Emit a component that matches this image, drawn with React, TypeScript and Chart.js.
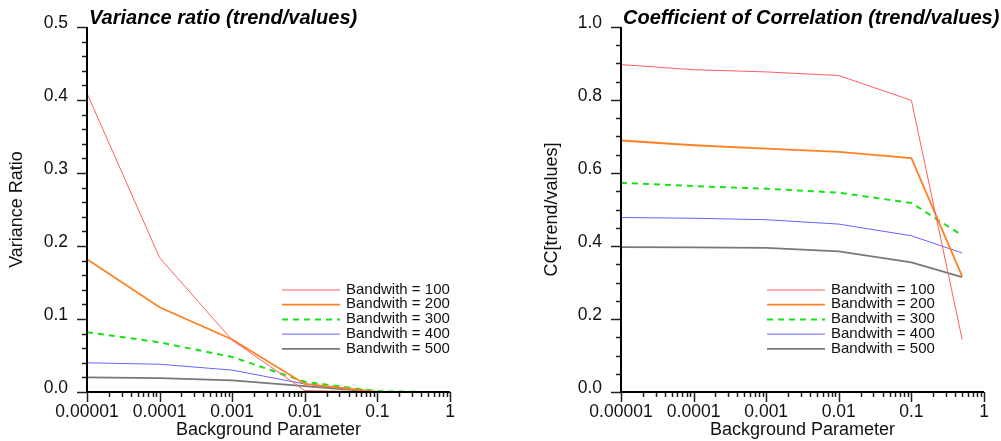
import React, { useEffect, useRef } from "react";
import { Chart, registerables } from "chart.js";

Chart.register(...registerables);

// ---------- data ----------
const bgParams = [0.00001, 0.0001, 0.001, 0.01, 0.1, 0.5];
const xTickValues = [0.00001, 0.0001, 0.001, 0.01, 0.1, 1];
const xTickLabels = ["0.00001", "0.0001", "0.001", "0.01", "0.1", "1"];
const seriesNames = [
  "Bandwith = 100",
  "Bandwith = 200",
  "Bandwith = 300",
  "Bandwith = 400",
  "Bandwith = 500",
];

const varRatio100 = [0.409, 0.184, 0.071, 0.002, 0.0, 0.0];
const varRatio200 = [0.182, 0.116, 0.072, 0.011, 0.0, 0.0];
const varRatio300 = [0.082, 0.068, 0.048, 0.014, 0.001, 0.0];
const varRatio400 = [0.04, 0.038, 0.03, 0.011, 0.0, 0.0];
const varRatio500 = [0.02, 0.019, 0.016, 0.008, 0.0, 0.0];

const cc100 = [0.897, 0.883, 0.877, 0.867, 0.799, 0.144];
const cc200 = [0.689, 0.676, 0.667, 0.658, 0.641, 0.317];
const cc300 = [0.573, 0.564, 0.557, 0.546, 0.518, 0.429];
const cc400 = [0.478, 0.476, 0.472, 0.46, 0.428, 0.381];
const cc500 = [0.397, 0.396, 0.395, 0.385, 0.355, 0.315];

// ---------- styles ----------
const FONT = '"Liberation Sans", Arial, Helvetica, sans-serif';
const seriesStyles = [
  { color: "rgb(255,95,95)", width: 1, dash: [] as number[] },
  { color: "rgb(255,128,32)", width: 1.8, dash: [] as number[] },
  { color: "rgb(25,225,25)", width: 2, dash: [6, 5] },
  { color: "rgb(100,100,255)", width: 1, dash: [] as number[] },
  { color: "rgb(120,120,120)", width: 1.8, dash: [] as number[] },
];

type Panel = {
  title: string;
  yTitle: string;
  series: number[][];
  yMax: number;
  yMajor: number;
  yMinor: number;
  yAxisWidth: number;
  padRight: number;
  yTitlePad: number;
  legendX1: number;
  legendX2: number;
  legendTextX: number;
  legendY0: number;
  canvasW: number;
};

const leftPanel: Panel = {
  title: "Variance ratio (trend/values)",
  yTitle: "Variance Ratio",
  series: [varRatio100, varRatio200, varRatio300, varRatio400, varRatio500],
  yMax: 0.5,
  yMajor: 0.1,
  yMinor: 0.02,
  yAxisWidth: 87,
  padRight: 50,
  yTitlePad: 6.7,
  legendX1: 282,
  legendX2: 340,
  legendTextX: 346,
  legendY0: 290,
  canvasW: 500,
};

const rightPanel: Panel = {
  title: "Coefficient of Correlation (trend/values)",
  yTitle: "CC[trend/values]",
  series: [cc100, cc200, cc300, cc400, cc500],
  yMax: 1.0,
  yMajor: 0.2,
  yMinor: 0.05,
  yAxisWidth: 121,
  padRight: 17,
  yTitlePad: 41,
  legendX1: 267,
  legendX2: 325,
  legendTextX: 331,
  legendY0: 290,
  canvasW: 501,
};

function makeChart(canvas: HTMLCanvasElement, p: Panel) {
  const decor = {
    id: "decor",
    afterDraw(chart: any) {
      const ctx = chart.ctx as CanvasRenderingContext2D;
      const { left, right, top, bottom } = chart.chartArea;
      const xs = chart.scales.x;
      const ys = chart.scales.y;
      ctx.save();
      // tick marks
      ctx.strokeStyle = "#222";
      ctx.lineWidth = 1.5;
      ctx.beginPath();
      const n = Math.round(p.yMax / p.yMinor);
      for (let i = 0; i <= n; i++) {
        const v = i * p.yMinor;
        const r = v / p.yMajor;
        const major = Math.abs(r - Math.round(r)) < 1e-6;
        const py = Math.round(ys.getPixelForValue(v)) + 0.5;
        const len = major ? 10 : 5;
        ctx.moveTo(left - len, py);
        ctx.lineTo(left, py);
      }
      for (let d = 0; d < xTickValues.length; d++) {
        const dec = xTickValues[d];
        const last = d === xTickValues.length - 1;
        for (let k = 1; k <= (last ? 1 : 9); k++) {
          const v = k * dec;
          const px = Math.round(xs.getPixelForValue(v)) + 0.5;
          const len = k === 1 ? 10 : 5;
          ctx.moveTo(px, bottom);
          ctx.lineTo(px, bottom + len);
        }
      }
      ctx.stroke();
      // axes
      ctx.strokeStyle = "#000";
      ctx.lineWidth = 2;
      ctx.beginPath();
      ctx.moveTo(left, top);
      ctx.lineTo(left, bottom);
      ctx.lineTo(right, bottom);
      ctx.stroke();
      // title
      ctx.fillStyle = "#000";
      ctx.font = `italic bold 20px ${FONT}`;
      ctx.textBaseline = "alphabetic";
      ctx.textAlign = "left";
      ctx.fillText(p.title, left + 2, 23.5);
      // legend
      ctx.font = `15px ${FONT}`;
      ctx.fillStyle = "#111";
      for (let i = 0; i < seriesNames.length; i++) {
        const st = seriesStyles[i];
        const y = p.legendY0 + i * 14.7;
        ctx.strokeStyle = st.color;
        ctx.lineWidth = st.width;
        ctx.setLineDash(st.dash);
        ctx.beginPath();
        ctx.moveTo(p.legendX1, y);
        ctx.lineTo(p.legendX2, y);
        ctx.stroke();
        ctx.setLineDash([]);
        ctx.fillText(seriesNames[i], p.legendTextX, y + 3.7);
      }
      ctx.restore();
    },
  };

  return new Chart(canvas, {
    type: "line",
    data: {
      datasets: p.series.map((arr, i) => ({
        label: seriesNames[i],
        data: bgParams.map((x, j) => ({ x, y: arr[j] })),
        borderColor: seriesStyles[i].color,
        borderWidth: seriesStyles[i].width,
        borderDash: seriesStyles[i].dash,
        pointRadius: 0,
        fill: false,
        tension: 0,
      })),
    },
    options: {
      animation: false,
      responsive: false,
      devicePixelRatio: 1,
      layout: { padding: { top: 27, right: p.padRight, left: 0, bottom: 0 } },
      plugins: {
        legend: { display: false },
        tooltip: { enabled: false },
        title: { display: false },
      },
      scales: {
        x: {
          type: "logarithmic",
          min: 0.00001,
          max: 1,
          grid: { display: false },
          border: { display: false },
          afterBuildTicks: (s: any) => {
            s.ticks = xTickValues.map((v) => ({ value: v }));
          },
          afterFit: (s: any) => {
            s.height = 49;
          },
          ticks: {
            autoSkip: false,
            maxRotation: 0,
            minRotation: 0,
            padding: 2,
            color: "#111",
            font: { family: FONT, size: 17.5 },
            callback: (_v: any, i: number) => xTickLabels[i],
          },
          title: {
            display: true,
            text: "Background Parameter",
            color: "#111",
            font: { family: FONT, size: 18 },
            padding: { top: 0, bottom: 0 },
          },
        },
        y: {
          type: "linear",
          min: 0,
          max: p.yMax,
          grid: { display: false },
          border: { display: false },
          afterFit: (s: any) => {
            s.width = p.yAxisWidth;
          },
          ticks: {
            stepSize: p.yMajor,
            padding: 11,
            labelOffset: -4,
            color: "#111",
            font: { family: FONT, size: 17.5 },
            callback: (v: any) => Number(v).toFixed(1),
          },
          title: {
            display: true,
            text: p.yTitle,
            color: "#111",
            font: { family: FONT, size: 18 },
            padding: { top: p.yTitlePad, bottom: 0 },
          },
        },
      },
    } as any,
    plugins: [decor],
  });
}

export default function App() {
  const leftRef = useRef<HTMLCanvasElement>(null);
  const rightRef = useRef<HTMLCanvasElement>(null);

  useEffect(() => {
    document.body.style.margin = "0";
    const c1 = makeChart(leftRef.current!, leftPanel);
    const c2 = makeChart(rightRef.current!, rightPanel);
    return () => {
      c1.destroy();
      c2.destroy();
    };
  }, []);

  return (
    <div
      style={{
        position: "absolute",
        left: 0,
        top: 0,
        width: 1001,
        height: 441,
        background: "#fff",
        overflow: "hidden",
      }}
    >
      <canvas
        ref={leftRef}
        width={500}
        height={441}
        style={{ position: "absolute", left: 0, top: 0, width: 500, height: 441 }}
      />
      <canvas
        ref={rightRef}
        width={501}
        height={441}
        style={{ position: "absolute", left: 500, top: 0, width: 501, height: 441 }}
      />
    </div>
  );
}
